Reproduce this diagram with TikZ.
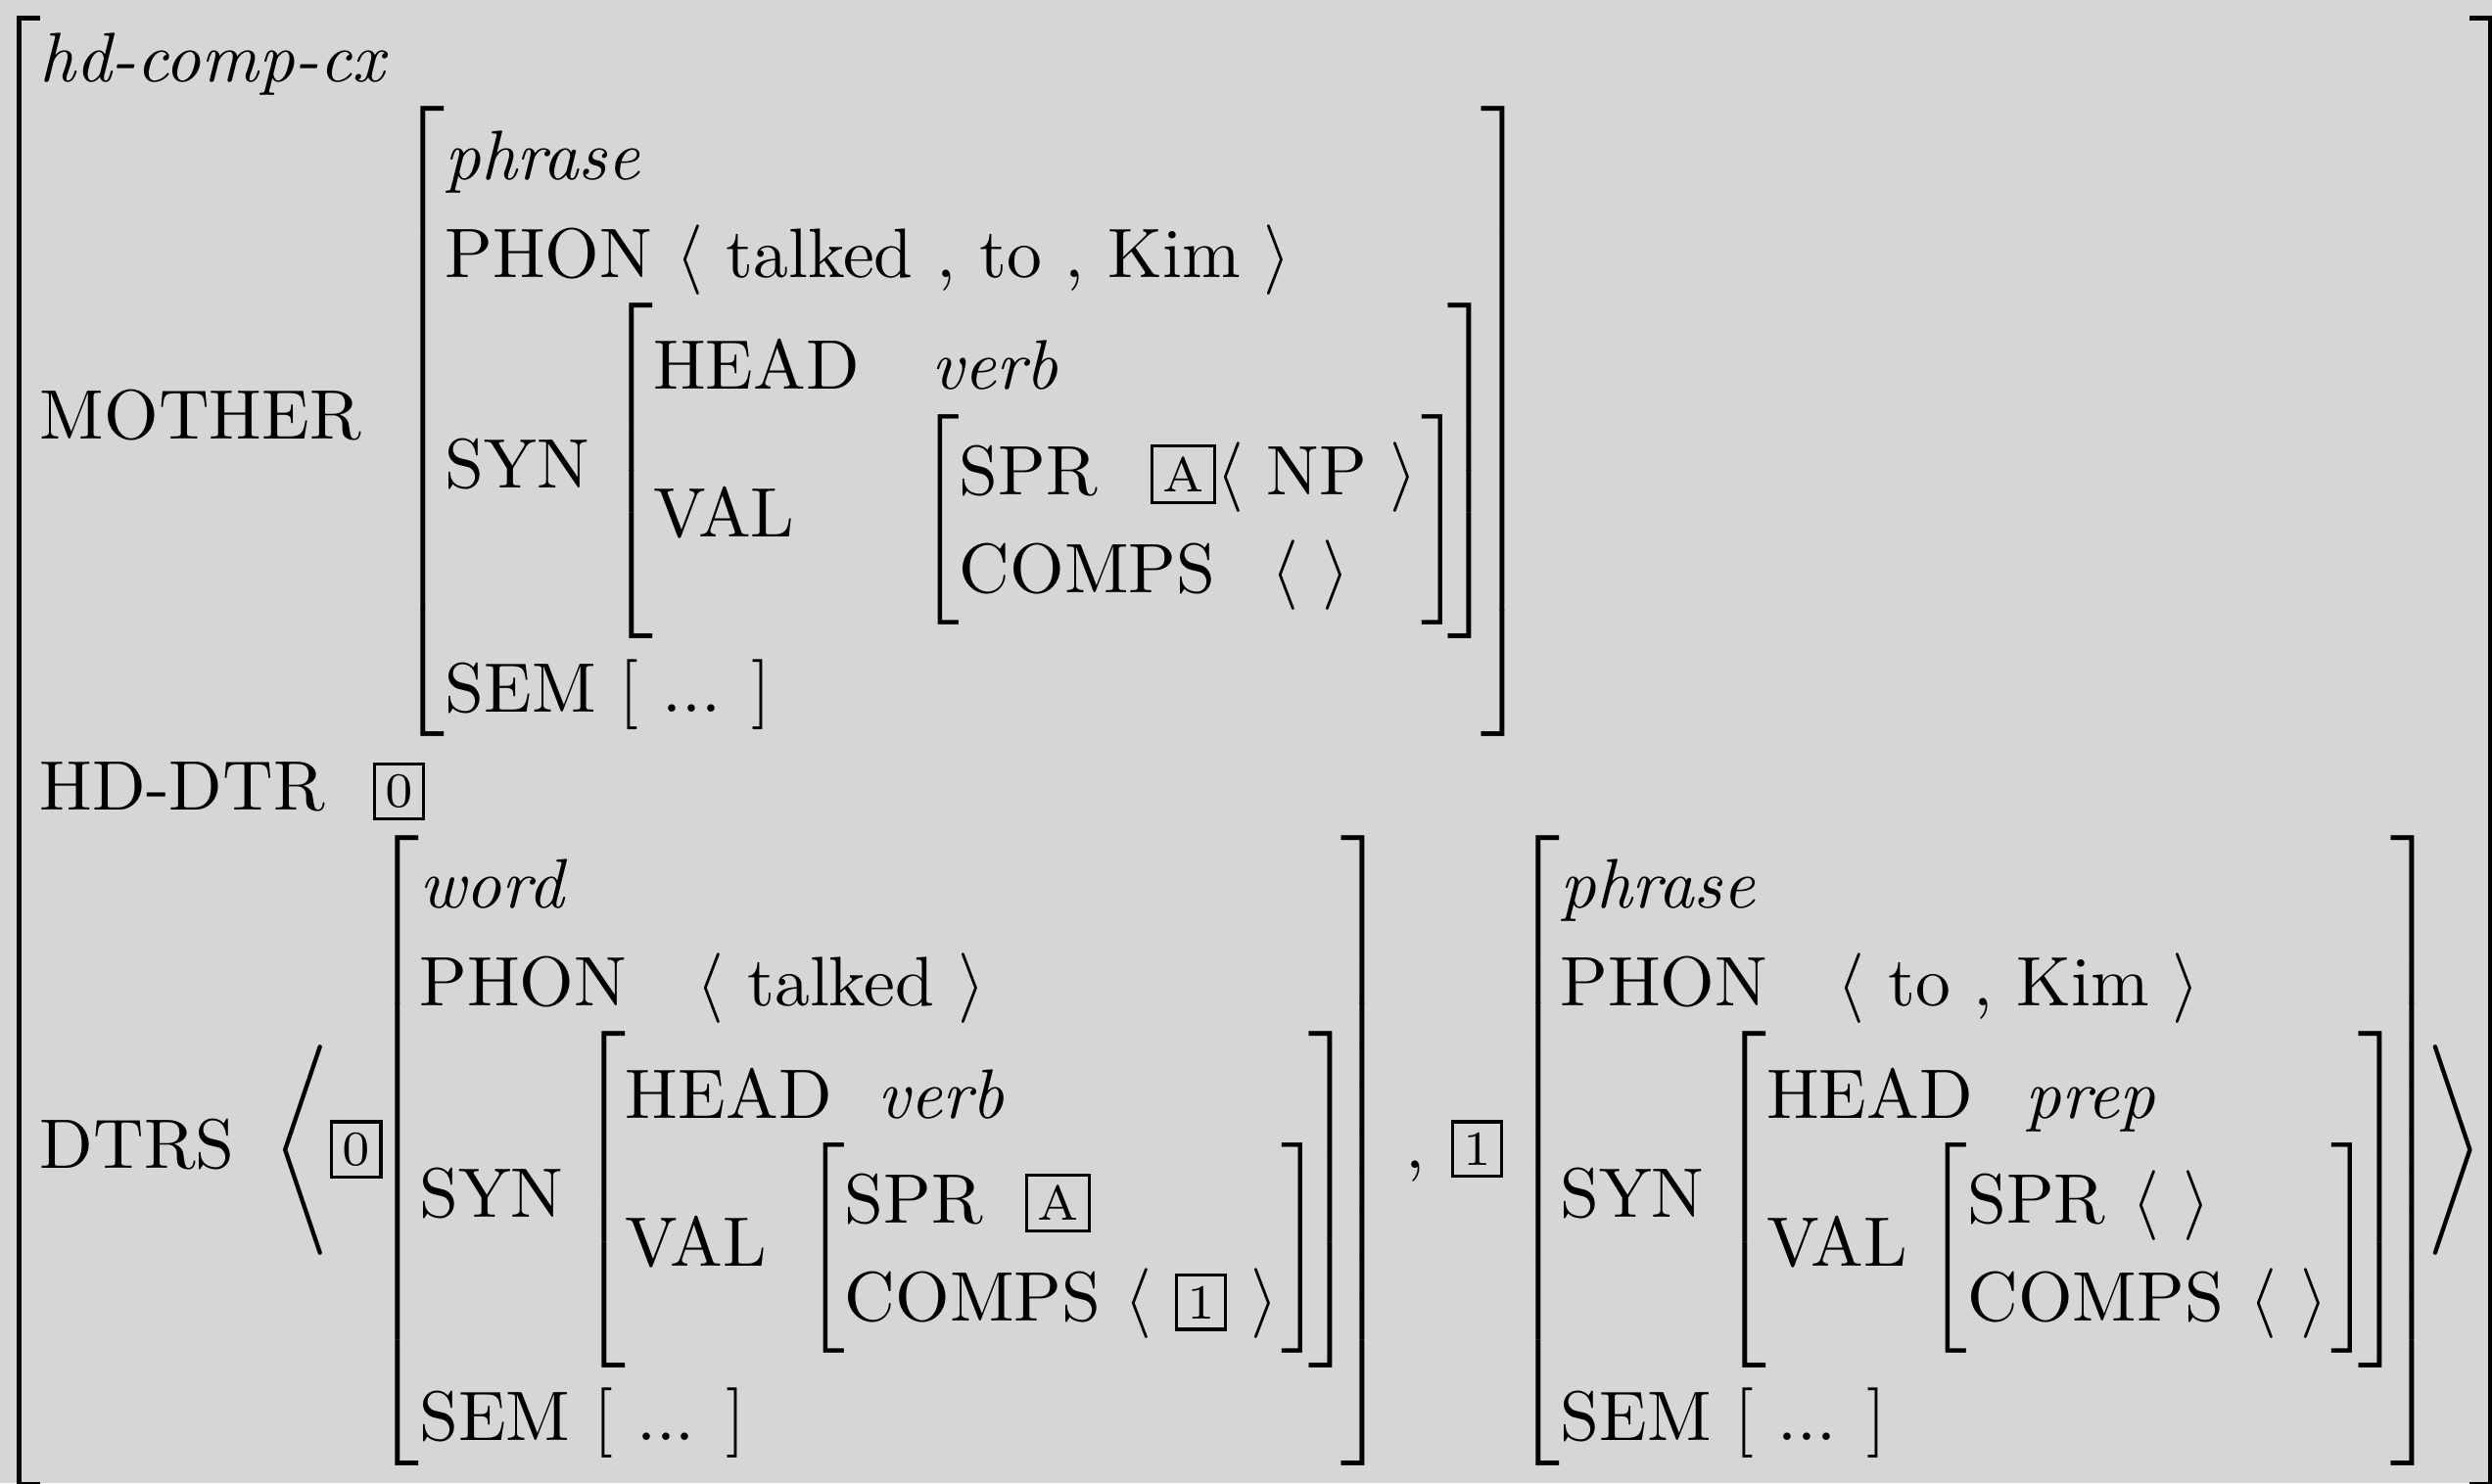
\documentclass[tikz,border=0pt]{standalone}
\usepackage{amsmath,array}
\usetikzlibrary{positioning,backgrounds}
\definecolor{paper}{HTML}{D6D6D6}

% tags, brackets and gaps for the feature structures
\setlength{\fboxsep}{1.3pt}
\setlength{\fboxrule}{0.45pt}
\setlength{\extrarowheight}{2pt}
\newcommand{\tg}[1]{\raisebox{0.4pt}{\fbox{\scriptsize #1}}}
\newcommand{\fs}[1]{{\hspace{-2.4pt}\left[\begin{array}{@{}l@{\hspace{0.5pt}}}#1\end{array}\right]\hspace{-2.5pt}}}
\newcommand{\gap}[1]{\hspace{#1pt}}
\delimitershortfall=0.5pt
\delimiterfactor=1000

\begin{document}
\begin{tikzpicture}[show background rectangle,inner frame sep=0pt,
    background rectangle/.style={fill=paper},
    bracket/.style={line width=0.7pt}]
  \node[inner sep=0pt,anchor=north west] (avm) at (0,0) {$\begin{array}{@{}l@{}}
      \textit{hd-comp-cx}\\
      \text{MOTHER}\gap{7.7}\fs{
        \textit{phrase}\\
        \text{PHON $\langle$ talked , to , Kim $\rangle$}\\
        \text{SYN}\gap{4.9}\fs{
          \text{HEAD}\gap{10.3}\textit{verb}\\
          \text{VAL}\gap{20.1}\fs{
            \text{SPR}\gap{7.5}\tg{A}\langle\ \text{NP}\ \rangle\\
            \text{COMPS}\gap{8}\text{$\langle$ $\rangle$}}}\\
        \text{SEM [ ... ]}}\\
      \text{HD-DTR}\gap{6.8}\tg{0}\\
      \text{DTRS}\gap{3.9}\left\langle\tg{0}\gap{1}\fs{
        \textit{word}\\
        \text{PHON}\quad\text{$\langle$ talked $\rangle$}\\
        \text{SYN}\gap{4.6}\fs{
          \text{HEAD}\gap{6.5}\textit{verb}\\
          \text{VAL}\gap{7.7}\fs{
            \text{SPR}\gap{6}\tg{A}\\
            \text{COMPS $\langle$ \tg{1} $\rangle$}}}\\
        \text{SEM [ ... ]}}
      \gap{5}\text{,}\gap{3.75}\tg{1}\gap{3.85}\fs{
        \textit{phrase}\\
        \text{PHON}\quad\text{$\langle$ to , Kim $\rangle$}\\
        \text{SYN}\gap{4.6}\fs{
          \text{HEAD}\gap{7.5}\textit{prep}\\
          \text{VAL}\gap{5.1}\fs{
            \text{SPR}\gap{3.7}\langle\gap{3.4}\rangle\\
            \text{COMPS}\gap{3.7}\langle\gap{3.4}\rangle}}\\
        \text{SEM [ ... ]}}\gap{0.8}\right\rangle
    \end{array}$};
  % outer bracket, cut by the lower and right edges
  \coordinate (lt) at ([shift={(-2.8pt,-1.6pt)}]avm.north west);
  \coordinate (lb) at ([shift={(-2.8pt,-2.5pt)}]avm.south west);
  \coordinate (rt) at ([shift={(1pt,-1.6pt)}]avm.north east);
  \coordinate (rb) at ([shift={(1pt,-2.5pt)}]avm.south east);
  \draw[bracket] ([xshift=3pt]lt) -- (lt) -- (lb) -- ([xshift=3pt]lb);
  \draw[bracket] ([xshift=-3pt]rt) -- (rt) -- (rb) -- ([xshift=-3pt]rb);
  \pgfresetboundingbox
  \useasboundingbox ([shift={(-5.5pt,1pt)}]avm.north west)
    rectangle ([shift={(1.2pt,-2.3pt)}]avm.south east);
\end{tikzpicture}
\end{document}
